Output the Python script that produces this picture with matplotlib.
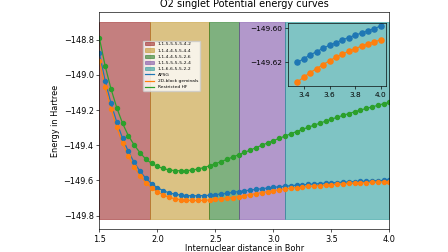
import numpy as np
import matplotlib.pyplot as plt

# ====================== data ======================
r = np.round(np.arange(1.5, 4.0001, 0.05), 2)  # internuclear distance (Bohr)

e_apsg = [-148.875, -149.032, -149.160, -149.268, -149.360, -149.435, -149.497, -149.547,
          -149.587, -149.618, -149.641, -149.658, -149.670, -149.678, -149.683, -149.686,
          -149.687, -149.687, -149.686, -149.684, -149.681, -149.677, -149.673, -149.668,
          -149.663, -149.659, -149.655, -149.651, -149.647, -149.643, -149.639, -149.636,
          -149.633, -149.630, -149.627, -149.625, -149.6225, -149.6202, -149.6179, -149.6157,
          -149.6138, -149.6118, -149.6100, -149.6085, -149.6069, -149.6055, -149.6041,
          -149.6028, -149.6014, -149.6002, -149.5986]

e_2dblock = [-148.920, -149.068, -149.192, -149.298, -149.388, -149.462, -149.523, -149.573,
             -149.612, -149.642, -149.665, -149.682, -149.695, -149.704, -149.709, -149.712,
             -149.714, -149.714, -149.713, -149.711, -149.708, -149.705, -149.701, -149.697,
             -149.692, -149.686, -149.680, -149.675, -149.669, -149.664, -149.658, -149.653,
             -149.648, -149.6437, -149.6404, -149.6373, -149.6344, -149.6316, -149.6288,
             -149.6261, -149.6238, -149.6214, -149.6192, -149.6171, -149.6153, -149.6135,
             -149.6120, -149.6106, -149.6091, -149.6079, -149.6069]

e_hf = [-148.789, -148.948, -149.078, -149.186, -149.275, -149.345, -149.398, -149.442,
        -149.478, -149.503, -149.520, -149.532, -149.540, -149.544, -149.545, -149.544,
        -149.541, -149.535, -149.527, -149.517, -149.505, -149.493, -149.480, -149.467,
        -149.454, -149.441, -149.428, -149.414, -149.400, -149.387, -149.374, -149.361,
        -149.348, -149.335, -149.322, -149.310, -149.298, -149.286, -149.275, -149.263,
        -149.252, -149.241, -149.230, -149.220, -149.210, -149.200, -149.191, -149.182,
        -149.173, -149.164, -149.156]

# block structures and where each one is the lowest
block_labels = ["1-1-5-5-5-5-4-2", "1-1-4-4-5-5-4-4", "1-1-4-4-5-5-2-6",
                "1-1-5-5-5-5-2-4", "1-1-6-6-5-5-2-2"]
block_edges = [1.5, 1.935, 2.445, 2.70, 3.105, 4.0]
block_colors = ["darkred", "darkgoldenrod", "darkgreen", "rebeccapurple", "darkcyan"]
e_band = (-149.82, -148.7)

inset_from = 37  # index of r = 3.35
# ==================================================

s = 0.584  # scale of the original figure
plt.rcParams.update({
    "font.size": 10 * s,
    "axes.linewidth": 0.8 * s,
    "xtick.major.width": 0.8 * s, "ytick.major.width": 0.8 * s,
    "xtick.major.size": 3.5 * s, "ytick.major.size": 3.5 * s,
    "xtick.major.pad": 3.5 * s, "ytick.major.pad": 3.5 * s,
})

fig = plt.figure(figsize=(4.48, 2.52), dpi=100)
ax = fig.add_axes([0.2217, 0.0913, 0.6473, 0.860])

for i in range(len(block_labels)):
    ax.fill_between([block_edges[i], block_edges[i + 1]], e_band[0], e_band[1],
                    color=block_colors[i], alpha=0.5, linewidth=0.6, label=block_labels[i])

curves = [(e_apsg, "C0", "APSG"), (e_2dblock, "C1", "2D-block geminals"), (e_hf, "C2", "Restricted HF")]
for e, c, lab in curves:
    ax.plot(r, e, color=c, linewidth=1.5 * s, label=lab)
for e, c, lab in curves:
    ax.plot(r, e, "o", color=c, markersize=2.9)

ax.set_xlim(1.5, 4.0)
ax.set_ylim(-149.876, -148.644)
ax.set_xticks([1.5, 2.0, 2.5, 3.0, 3.5, 4.0])
ax.set_title("O2 singlet Potential energy curves", fontsize=12 * s, pad=6 * s)
ax.set_xlabel("Internuclear distance in Bohr", labelpad=0)
ax.set_ylabel("Energy in Hartree", labelpad=4 * s)
ax.legend(loc="upper left", bbox_to_anchor=(0.144, 0.88), fontsize=3.2,
          framealpha=0.8, borderpad=0.4, labelspacing=0.45, handlelength=2.0)

# zoomed inset of the dissociation tail
axins = fig.add_axes([0.643, 0.659, 0.219, 0.250])
axins.set_facecolor("none")
for e, c, lab in curves[:2]:
    axins.plot(r[inset_from:], e[inset_from:], "o-", color=c,
               linewidth=1.5 * s, markersize=3.7)
axins.set_xlim(3.277, 4.041)
axins.set_ylim(-149.634, -149.5969)
axins.set_xticks([3.4, 3.6, 3.8, 4.0])
axins.set_yticks([-149.60, -149.62])
axins.tick_params(labelsize=5.3)

fig.savefig("out.png", dpi=100)
